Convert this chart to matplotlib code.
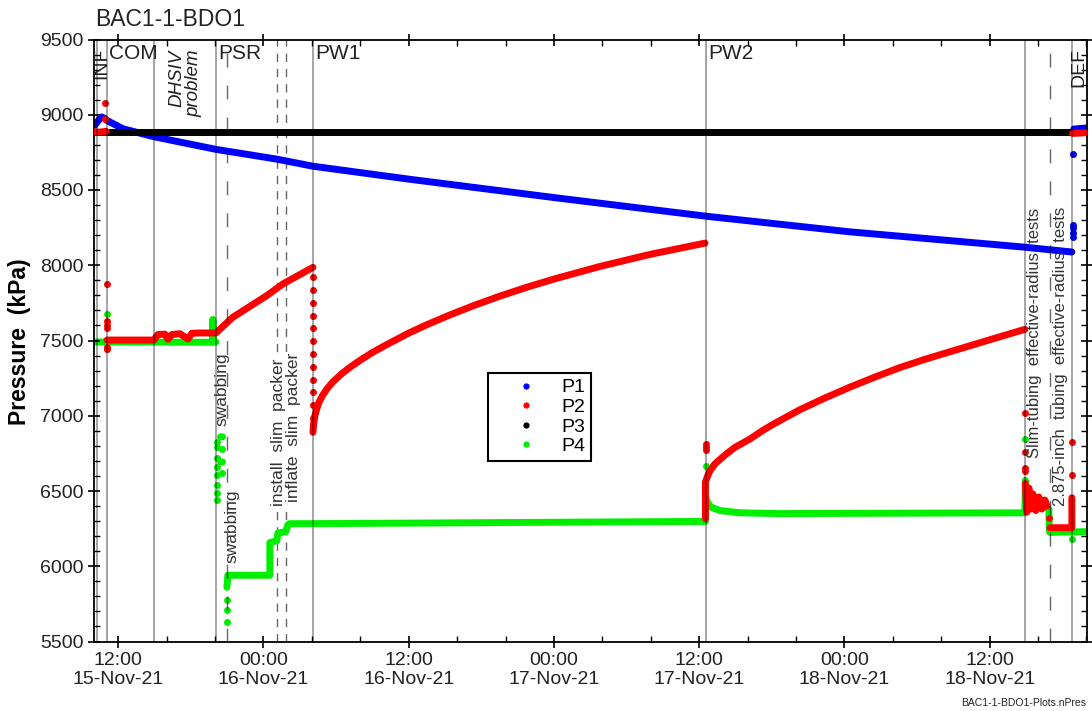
import matplotlib
matplotlib.use("Agg")
import matplotlib.pyplot as plt
import matplotlib.dates as mdates
from matplotlib.lines import Line2D
from matplotlib.ticker import MultipleLocator
import numpy as np
import pandas as pd

plt.rcParams['font.family'] = ['Liberation Sans', 'DejaVu Sans']

NAN = np.nan
START = pd.Timestamp("2021-11-15 00:00")   # times below are hours after this

# ---------------- gauge data (hours, kPa) ----------------
# P1 - continuous trend and isolated samples
p1_hours = [10.07, 10.49, 10.65, 10.90, 11.07, 12.39, 14.95, 20.07, 25.11, 28.09,
            36.02, 48.08, 60.56, 72.45, 86.91, 90.79, NAN, 90.95, 92.0]
p1_kpa = [8930, 8975, 8985, 8975, 8962, 8907, 8854, 8770, 8705, 8658,
          8572, 8449, 8326, 8222, 8120, 8088, NAN, 8905, 8912]
p1_dot_hours = [90.88, 90.88, 90.88, 90.88, 90.90]
p1_dot_kpa = [8185, 8215, 8245, 8265, 8740]

# P2
p2_hours = [9.99, 10.5, 11.0, NAN,
            11.07, 14.95, 15.28, 15.86, 16.11, 16.44, 17.10, 17.76, 18.09, 18.75,
            20.07, 21.48, 24.29, 25.61, 28.09, NAN,
            28.09, 28.15, 28.25, 28.40, 28.58, 28.90, 29.24, 29.70, 30.48, 31.20,
            32.05, 33.00, 34.12, 35.00, 36.02, 37.50, 39.41, 41.40, 43.54, 45.80,
            48.08, 51.80, 55.93, 60.48, NAN,
            60.52, 60.52, 60.70, 60.89, 61.30, 61.72, 62.30, 62.96, 64.19, 65.20,
            66.26, 68.32, 70.39, 72.45, 74.52, 76.58, 78.65, 80.71, 82.78, 84.84,
            86.91, NAN,
            86.95, 87.07, 87.24, 87.40, 87.57, 87.81, 88.06, 88.31, 88.56, 88.73, NAN,
            88.97, 90.79, 90.79, NAN,
            90.85, 91.9]
p2_kpa = [8885, 8885, 8890, NAN,
          7503, 7503, 7540, 7542, 7508, 7540, 7545, 7510, 7548, 7550,
          7550, 7655, 7799, 7876, 7986, NAN,
          6890, 6950, 7000, 7045, 7088, 7137, 7178, 7222, 7280, 7325,
          7372, 7420, 7470, 7507, 7550, 7605, 7670, 7733, 7795, 7855,
          7910, 7992, 8072, 8147, NAN,
          6316, 6560, 6600, 6634, 6680, 6710, 6750, 6790, 6845, 6900,
          6950, 7040, 7118, 7190, 7257, 7320, 7375, 7425, 7475, 7525,
          7574, NAN,
          6550, 6360, 6520, 6380, 6480, 6370, 6460, 6380, 6440, 6400, NAN,
          6256, 6256, 6455, NAN,
          8876, 8880]
p2_dot_hours = [10.90, 10.95,
                11.07, 11.07, 11.07, 11.07, 11.07, 11.07,
                28.09, 28.09, 28.09, 28.09, 28.09, 28.09, 28.09, 28.09, 28.09, 28.09,
                28.09, 28.09,
                60.56, 60.56, 60.56,
                86.91, 86.91, 86.91, 86.91, 88.89, 90.79, 90.79]
p2_dot_kpa = [8975, 9076,
              7875, 7630, 7605, 7580, 7460, 7445,
              7920, 7835, 7750, 7665, 7580, 7495, 7410, 7325, 7240, 7155,
              7070, 6985,
              6813, 6795, 6775,
              7019, 6760, 6654, 6634, 6322, 6608, 6827]

# P3
p3_hours = [9.99, 90.79]
p3_kpa = [8887, 8887]

# P4
p4_hours = [9.99, 11.07, 19.78, 19.82, 19.86, 20.07, NAN,
            20.98, 21.06, 24.53, 24.53, 25.11, 25.19, 25.85, 26.02, 26.18, 28.09,
            43.54, 60.48, 60.52, 60.56, 60.73, 60.89, 61.06, 61.72, 63.37, 66.67,
            86.82, 86.91, 86.95, 87.07, 87.50, 88.56, 88.89, 88.93, 88.97, 92.0, NAN,
            20.45, 20.62, NAN, 20.45, 20.62]
p4_kpa = [7490, 7490, 7488, 7640, 7490, 7490, NAN,
          5860, 5940, 5940, 6157, 6170, 6220, 6230, 6275, 6283, 6283,
          6290, 6298, 6298, 6450, 6420, 6400, 6390, 6370, 6355, 6350,
          6355, 6355, 6570, 6430, 6420, 6400, 6380, 6240, 6225, 6230, NAN,
          6860, 6860, NAN, 6693, 6693]
p4_dot_hours = [11.07, 11.07,
                20.15, 20.15, 20.15, 20.15, 20.15, 20.15, 20.15, 20.15,
                20.55, 20.55,
                20.98, 20.98, 20.98,
                60.56, 86.91, 90.79]
p4_dot_kpa = [7676, 7443,
              6826, 6793, 6720, 6660, 6607, 6541, 6488, 6441,
              6780, 6620,
              5776, 5710, 5630,
              6667, 6847, 6183]

series_names = ["P1", "P2", "P3", "P4"]
series_colors = ["#0000ff", "#ff0000", "#000000", "#00ee00"]

# operation events (hours)
solid_event_hours = [10.24, 11.07, 14.95, 20.07, 28.09, 60.56, 86.91, 90.79]
long_dash_hours = [20.98, 88.97]
short_dash_hours = [25.15, 25.85]


def to_num(hours):
    return mdates.date2num(START) + np.asarray(hours, dtype=float) / 24.0


fig = plt.figure(figsize=(10.92, 7.11), dpi=100)
W, H = 1092, 711
ax = fig.add_axes([94 / W, 1 - 641.5 / H, 992.5 / W, 602 / H])
ax.xaxis_date()

line_kw = dict(lw=5.0, solid_capstyle='round', solid_joinstyle='round')
dot_kw = dict(ls='none', marker='o', ms=5.0, mew=0)

series = [
    (p4_hours, p4_kpa, p4_dot_hours, p4_dot_kpa, 3, 1),
    (p1_hours, p1_kpa, p1_dot_hours, p1_dot_kpa, 0, 2),
    (p3_hours, p3_kpa, [], [], 2, 3),
    (p2_hours, p2_kpa, p2_dot_hours, p2_dot_kpa, 1, 4),
]
for hrs, vals, dh, dv, ci, z in series:
    ax.plot(to_num(hrs), vals, color=series_colors[ci], zorder=z, **line_kw)
    if len(dh):
        ax.plot(to_num(dh), dv, color=series_colors[ci], zorder=z, **dot_kw)

# event markers
for h in solid_event_hours:
    ax.axvline(to_num(h), color='black', alpha=0.45, lw=1.1, zorder=6)
for h in long_dash_hours:
    ax.axvline(to_num(h), color='black', alpha=0.6, lw=1.0, dashes=(10, 13), zorder=6)
for h in short_dash_hours:
    ax.axvline(to_num(h), color='black', alpha=0.6, lw=1.0, dashes=(6, 5), zorder=0.5)

ax.set_xlim(to_num(10.0), to_num(92.0))
ax.set_ylim(5500, 9500)

# phase labels along the top
txt_col = '#222222'
for name, h in [("COM", 11.07), ("PSR", 20.07), ("PW1", 28.09), ("PW2", 60.56)]:
    ax.annotate(name, xy=(to_num(h), 1.0), xycoords=('data', 'axes fraction'),
                xytext=(1.5, -3.5), textcoords='offset points', ha='left', va='top',
                fontsize=15, color=txt_col, zorder=8)
for name, h in [("INF", 10.66), ("DEF", 91.41)]:
    ax.annotate(name, xy=(to_num(h), 1.0), xycoords=('data', 'axes fraction'),
                xytext=(0, -6), textcoords='offset points', ha='center', va='top',
                rotation=90, fontsize=14, color=txt_col, zorder=8)
ax.text(to_num(17.55), 9435, "DHSIV\nproblem", rotation=90, ha='center', va='top',
        multialignment='right', fontsize=13.5, style='italic', color=txt_col,
        linespacing=1.05, zorder=8)

# operation notes
note_col = '#333333'
swab_notes = [("swabbing", 20.58, 7178), ("swabbing", 21.43, 6268)]
packer_notes = [("install  slim  packer", 25.24, 6892),
                ("inflate  slim  packer", 26.47, 6925)]
test_notes = [("Slim-tubing  effective-radius  tests", 87.74, 7553),
              ("2.875-inch  tubing  effective-radius  tests", 89.89, 7397)]
for text, h, p in swab_notes:
    ax.text(to_num(h), p, text, rotation=90, ha='center', va='center',
            fontsize=12.5, color=note_col, zorder=7)
for text, h, p in packer_notes:
    ax.text(to_num(h), p, text, rotation=90, ha='center', va='center',
            fontsize=12.5, color=note_col, zorder=0.8,
            bbox=dict(facecolor='white', edgecolor='none', pad=0.5))
for text, h, p in test_notes:
    ax.text(to_num(h), p, text, rotation=90, ha='center', va='center',
            fontsize=12, color=note_col, zorder=7)

# axes formatting
ax.xaxis.set_major_locator(mdates.HourLocator(byhour=[0, 12]))
ax.xaxis.set_minor_locator(mdates.HourLocator(byhour=range(0, 24, 4)))
ax.xaxis.set_major_formatter(mdates.DateFormatter('%H:%M\n%d-%b-%y'))
ax.yaxis.set_major_locator(MultipleLocator(500))
ax.yaxis.set_minor_locator(MultipleLocator(100))
ax.tick_params(which='major', direction='inout', length=9, width=1.2,
               top=True, right=True, labelsize=14, labelcolor=txt_col, pad=3)
ax.tick_params(which='minor', direction='in', length=4, width=1.0,
               top=True, right=True)
for lab in ax.get_xticklabels():
    lab.set_linespacing(1.15)
for sp in ax.spines.values():
    sp.set_linewidth(1.3)

# legend
handles = [Line2D([], [], ls='none', marker='o', ms=4.5, mew=0, color=c)
           for c in series_colors]
leg = ax.legend(handles, series_names, loc='upper left', bbox_to_anchor=(0.397, 0.446),
                frameon=True, fancybox=False, edgecolor='black', framealpha=1,
                fontsize=14, handlelength=3.3, handletextpad=0.15, borderpad=0.3,
                labelspacing=0.1, borderaxespad=0)
leg.get_frame().set_linewidth(1.5)
leg.set_zorder(10)

fig.text(95 / W, 1 - 20 / H, "BAC1-1-BDO1", ha='left', va='center', fontsize=16.5,
         color=txt_col)
fig.text(20 / W, 1 - 342 / H, "Pressure  (kPa)", rotation=90, ha='center', va='center',
         fontsize=16.5, fontweight='bold', color='black')
fig.text(961 / W, 1 - 703 / H, "BAC1-1-BDO1-Plots.nPres", ha='left', va='center',
         fontsize=7.5, color=txt_col)

fig.savefig("out.png", dpi=100)
